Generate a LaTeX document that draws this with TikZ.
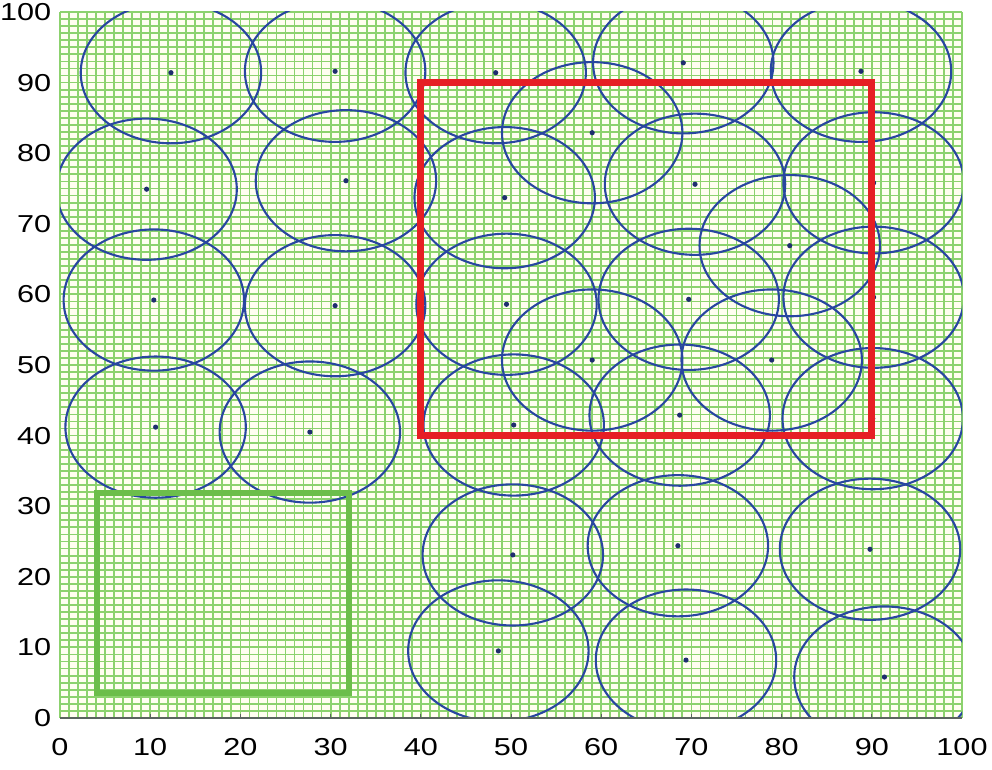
\documentclass[tikz,border=0pt]{standalone}
\usepackage{fontspec}
\setmainfont{Liberation Sans}
\definecolor{gridc}{RGB}{140,210,110}
\definecolor{circc}{RGB}{40,70,160}
\definecolor{redbox}{RGB}{230,30,36}
\definecolor{greenbox}{RGB}{108,190,75}
\definecolor{dotc}{RGB}{30,45,110}
\definecolor{axisc}{RGB}{90,100,95}
\begin{document}
\begin{tikzpicture}[x=1pt,y=1pt,
  ticklab/.style={font=\fontsize{24.5}{29}\selectfont, inner sep=0pt, xscale=1.25},
  gridline/.style={gridc, line width=1.8pt},
  sensor/.style={circc, line width=2.1pt},
  sdot/.style={dotc},
  regionred/.style={redbox, line width=7pt},
  regiongreen/.style={greenbox, line width=6pt}]
\useasboundingbox (0,0) rectangle (992,770);
\fill[white] (0,0) rectangle (992,770);
\begin{scope}[shift={(60,52)}, x=9.02pt, y=7.06pt]
  \fill[white!94!yellow] (0,0) rectangle (100,100);
  \foreach \i in {0,...,100} {
    \draw[gridline] (\i,0) -- (\i,100);
    \draw[gridline] (0,\i) -- (100,\i);
  }
  \begin{scope}
    \clip (0,0) rectangle (100,100);
    \foreach \cx/\cy in {12.3/91.4,30.5/91.6,48.3/91.4,69.1/92.8,88.8/91.6,
      59/82.9,
      9.6/74.9,31.7/76.1,49.3/73.7,70.4/75.6,90.2/75.8,
      80.9/66.9,
      10.4/59.2,30.5/58.4,49.5/58.6,69.7/59.3,90.2/59.6,
      59/50.7,78.9/50.7,
      10.6/41.2,27.7/40.5,50.3/41.5,68.7/42.9,90.1/42.4,
      50.2/23.1,68.5/24.4,89.8/23.9,
      48.6/9.5,69.4/8.2,91.4/5.8} {
      \draw[sensor] (\cx,\cy) ellipse [x radius=90.2pt, y radius=70.6pt];
      \fill[sdot] (\cx,\cy) circle [radius=2.6pt];
    }
  \end{scope}
  \draw[regionred] (40,40) rectangle (90,90);
  \draw[regiongreen] (4.1,3.6) rectangle (32,31.9);
  \draw[axisc, line width=1.2pt] (0,0) -- (100,0);
  \foreach \v in {10,20,...,90} {
    \draw[axisc, line width=1pt] (\v,0) -- (\v,0.6);
  }
  \foreach \v in {0,10,...,100} {
    \node[ticklab, anchor=north] (xl\v) at (\v,-2.8) {\v};
    \node[ticklab, anchor=east] (yl\v) at (-0.95,\v) {\v};
  }
\end{scope}
\end{tikzpicture}
\end{document}
